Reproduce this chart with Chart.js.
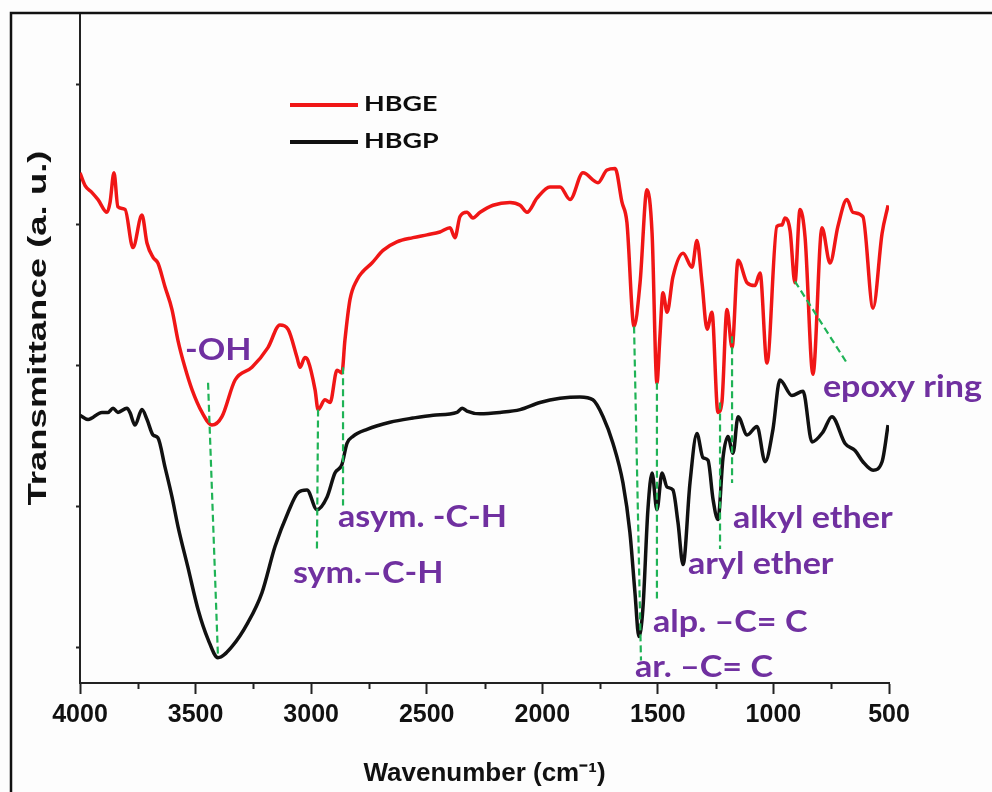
<!DOCTYPE html>
<html>
<head>
<meta charset="utf-8">
<script src="https://cdn.jsdelivr.net/npm/chart.js@4.4.0/dist/chart.umd.min.js"></script>
<style>
  html, body { margin: 0; padding: 0; background: #fdfdfd; }
  #wrap { width: 992px; height: 792px; position: relative; }
</style>
</head>
<body>
<div id="wrap"><canvas id="ftir"></canvas></div>
<script>
// HBGE spectrum (wavenumber in cm-1, transmittance in a.u. with offset)
const hbgeWavenumber = [4000, 3978, 3948, 3922, 3883, 3870, 3853, 3836, 3805, 3771, 3732, 3710, 3684, 3663, 3632, 3602,
  3576, 3546, 3515, 3472, 3429, 3386, 3329, 3256, 3187, 3135, 3100, 3061, 3048, 3027, 3014, 2983, 2970, 2940, 2918,
  2888, 2867, 2854, 2832, 2802, 2776, 2737, 2689, 2629, 2559, 2499, 2443, 2399, 2378, 2356, 2326, 2300, 2269, 2213,
  2140, 2096, 2066, 2023, 1967, 1923, 1880, 1824, 1759, 1720, 1685, 1655, 1634, 1603, 1577, 1547, 1525, 1504, 1491,
  1478, 1460, 1435, 1391, 1352, 1331, 1309, 1287, 1266, 1240, 1223, 1201, 1179, 1153, 1114, 1080, 1058, 1028, 985,
  963, 950, 928, 907, 885, 863, 829, 790, 755, 721, 682, 656, 613, 569, 530, 504];
const hbgeTransmittance = [4.37, 4.28, 4.23, 4.18, 4.09, 4.16, 4.37, 4.13, 4.11, 3.84, 4.07, 3.87, 3.77, 3.73, 3.56, 3.40,
  3.18, 2.99, 2.83, 2.67, 2.58, 2.64, 2.90, 2.99, 3.13, 3.29, 3.26, 3.06, 2.99, 3.06, 3.04, 2.83, 2.69, 2.76, 2.74,
  2.97, 2.95, 3.18, 3.47, 3.61, 3.67, 3.73, 3.82, 3.88, 3.91, 3.93, 3.95, 3.98, 3.91, 4.06, 4.09, 4.05, 4.09, 4.14,
  4.16, 4.14, 4.09, 4.19, 4.27, 4.27, 4.18, 4.37, 4.30, 4.39, 4.40, 4.16, 4.02, 3.28, 3.59, 4.25, 3.94, 2.88, 3.21,
  3.52, 3.38, 3.63, 3.80, 3.70, 3.89, 3.59, 3.26, 3.38, 2.67, 2.74, 3.40, 3.13, 3.75, 3.59, 3.57, 3.66, 3.02, 3.99,
  4.00, 4.05, 3.96, 3.59, 4.11, 3.91, 2.94, 3.98, 3.73, 3.99, 4.18, 4.09, 4.06, 3.41, 3.94, 4.14];

// HBGP spectrum
const hbgpWavenumber = [4000, 3965, 3905, 3879, 3857, 3836, 3797, 3784, 3762, 3732, 3710, 3684, 3663, 3632, 3602, 3576,
  3533, 3489, 3446, 3403, 3342, 3273, 3213, 3156, 3100, 3057, 3018, 2975, 2931, 2897, 2867, 2845, 2819, 2758, 2659,
  2559, 2472, 2369, 2347, 2326, 2269, 2183, 2096, 2010, 1923, 1837, 1781, 1737, 1694, 1651, 1621, 1599, 1582, 1565,
  1543, 1525, 1504, 1482, 1460, 1435, 1413, 1391, 1361, 1331, 1305, 1283, 1261, 1240, 1218, 1197, 1175, 1153, 1114,
  1071, 1036, 1002, 972, 920, 872, 833, 786, 747, 690, 647, 613, 569, 530, 504];
const hbgpTransmittance = [2.65, 2.62, 2.67, 2.67, 2.70, 2.67, 2.70, 2.67, 2.58, 2.69, 2.62, 2.51, 2.49, 2.28, 2.07, 1.86,
  1.57, 1.27, 1.06, 0.93, 1.01, 1.18, 1.39, 1.72, 1.96, 2.10, 2.12, 1.98, 2.07, 2.24, 2.30, 2.45, 2.50, 2.55, 2.60,
  2.63, 2.65, 2.67, 2.70, 2.68, 2.66, 2.67, 2.69, 2.74, 2.77, 2.78, 2.76, 2.64, 2.45, 2.17, 1.82, 1.39, 1.08, 1.27,
  1.98, 2.24, 1.98, 2.24, 2.14, 2.12, 1.89, 1.59, 2.17, 2.52, 2.35, 2.33, 2.05, 1.91, 2.35, 2.50, 2.38, 2.64, 2.51,
  2.57, 2.32, 2.55, 2.90, 2.79, 2.82, 2.46, 2.53, 2.64, 2.45, 2.40, 2.32, 2.26, 2.32, 2.58];

const seriesNames = ['HBGE', 'HBGP'];
const yTickValues = [1, 2, 3, 4, 5];

// peak marker lines, [wavenumber, transmittance] ends
const peakLines = [
  [[3446, 2.88], [3403, 0.93]],
  [[2970, 2.69], [2975, 1.68]],
  [[2862, 2.99], [2862, 2.01]],
  [[1603, 3.28], [1573, 0.91]],
  [[1504, 2.88], [1504, 1.35]],
  [[1231, 2.74], [1231, 1.70]],
  [[1179, 3.21], [1179, 2.17]],
  [[907, 3.60], [682, 3.02]]
];
// peak labels, anchored at left baseline
const peakLabels = [
  ['-OH', 3546, 3.04],
  ['sym.\u2013C-H', 3079, 1.46],
  ['asym. -C-H', 2884, 1.86],
  ['ar. \u2013C= C', 1599, 0.79],
  ['alp. \u2013C= C', 1521, 1.11],
  ['aryl ether', 1370, 1.52],
  ['alkyl ether', 1175, 1.85],
  ['epoxy ring', 786, 2.78]
];

function toPoints(xs, ys) {
  return xs.map((x, i) => ({ x: x, y: ys[i] }));
}

function stretchedText(ctx, text, x, y, sx) {
  ctx.save();
  ctx.translate(x, y);
  ctx.scale(sx, 1);
  ctx.fillText(text, 0, 0);
  ctx.restore();
}

const decorations = {
  id: 'decorations',
  beforeDraw(chart) {
    const ctx = chart.ctx;
    ctx.save();
    ctx.strokeStyle = '#111';
    ctx.lineWidth = 2.5;
    ctx.beginPath();
    ctx.moveTo(11, chart.height);
    ctx.lineTo(11, 13);
    ctx.lineTo(chart.width, 13);
    ctx.stroke();
    ctx.restore();
  },
  afterDatasetsDraw(chart) {
    const ctx = chart.ctx;
    const xs = chart.scales.x, ys = chart.scales.y;

    // minor ticks on x axis
    ctx.save();
    ctx.strokeStyle = '#222';
    ctx.lineWidth = 2;
    xs.ticks.forEach(t => {
      if (t.value % 500 !== 0) {
        const px = Math.round(xs.getPixelForValue(t.value)) + 0.5;
        ctx.beginPath();
        ctx.moveTo(px, xs.top);
        ctx.lineTo(px, xs.top + 6);
        ctx.stroke();
      }
    });
    ctx.restore();

    // dashed peak markers
    ctx.save();
    ctx.strokeStyle = '#1fb356';
    ctx.lineWidth = 2.2;
    ctx.setLineDash([7, 4]);
    peakLines.forEach(([a, b]) => {
      ctx.beginPath();
      ctx.moveTo(xs.getPixelForValue(a[0]), ys.getPixelForValue(a[1]));
      ctx.lineTo(xs.getPixelForValue(b[0]), ys.getPixelForValue(b[1]));
      ctx.stroke();
    });
    ctx.restore();

    // peak labels
    ctx.save();
    ctx.fillStyle = '#7030a0';
    ctx.font = 'bold 31px Lato';
    ctx.textBaseline = 'alphabetic';
    ctx.textAlign = 'left';
    peakLabels.forEach(([txt, w, v]) => {
      stretchedText(ctx, txt, xs.getPixelForValue(w), ys.getPixelForValue(v), 1.1);
    });
    ctx.restore();

    // legend
    ctx.save();
    const ds = chart.data.datasets;
    ctx.font = 'bold 21px Lato';
    ctx.textBaseline = 'middle';
    ctx.fillStyle = '#0d0d0d';
    ds.forEach((d, i) => {
      const y = 105 + i * 37;
      ctx.strokeStyle = d.borderColor;
      ctx.lineWidth = 4;
      ctx.beginPath();
      ctx.moveTo(290, y);
      ctx.lineTo(358, y);
      ctx.stroke();
      stretchedText(ctx, d.label, 364, y - 1, 1.28);
    });
    ctx.restore();

    // y axis title
    ctx.save();
    ctx.fillStyle = '#111';
    ctx.font = 'bold 25px "Liberation Sans"';
    ctx.textAlign = 'center';
    ctx.textBaseline = 'middle';
    ctx.translate(39, 328);
    ctx.rotate(-Math.PI / 2);
    ctx.scale(1.46, 1);
    ctx.fillText('Transmittance (a. u.)', 0, 0);
    ctx.restore();
  }
};

const ctx = document.getElementById('ftir').getContext('2d');
const chart = new Chart(ctx, {
  type: 'line',
  data: {
    datasets: [
      {
        label: seriesNames[0],
        data: toPoints(hbgeWavenumber, hbgeTransmittance),
        borderColor: '#f01616',
        borderWidth: 3.5,
        pointRadius: 0,
        cubicInterpolationMode: 'monotone'
      },
      {
        label: seriesNames[1],
        data: toPoints(hbgpWavenumber, hbgpTransmittance),
        borderColor: '#111111',
        borderWidth: 3.5,
        pointRadius: 0,
        cubicInterpolationMode: 'monotone'
      }
    ]
  },
  options: {
    responsive: true,
    maintainAspectRatio: false,
    animation: false,
    layout: { padding: { top: 15, right: 103, left: 0, bottom: 0 } },
    plugins: {
      legend: { display: false },
      tooltip: { enabled: false }
    },
    scales: {
      x: {
        type: 'linear',
        reverse: true,
        min: 500,
        max: 4000,
        afterFit: s => { s.height = 109; },
        border: { display: true, color: '#222', width: 2 },
        grid: {
          drawOnChartArea: false,
          tickLength: 11,
          tickWidth: 2,
          tickColor: c => (c.tick && c.tick.value % 500 === 0) ? '#222' : 'rgba(0,0,0,0)'
        },
        ticks: {
          stepSize: 250,
          autoSkip: false,
          maxRotation: 0,
          padding: 6,
          color: '#111',
          font: { family: '"Liberation Sans"', size: 25, weight: 'bold' },
          callback: v => (v % 500 === 0 ? String(v) : '')
        },
        title: {
          display: true,
          text: 'Wavenumber (cm\u207B\u00B9)',
          color: '#111',
          font: { family: '"Liberation Sans"', size: 26, weight: 'bold' },
          padding: { top: 0, bottom: 3 }
        }
      },
      y: {
        type: 'linear',
        min: 0.75,
        max: 5.49,
        afterFit: s => { s.width = 80; },
        afterBuildTicks: s => { s.ticks = yTickValues.map(v => ({ value: v })); },
        border: { display: true, color: '#222', width: 2 },
        grid: { drawOnChartArea: false, tickLength: 4, tickWidth: 2, tickColor: '#222' },
        ticks: { display: false, includeBounds: false }
      }
    }
  },
  plugins: [decorations]
});
</script>
</body>
</html>
